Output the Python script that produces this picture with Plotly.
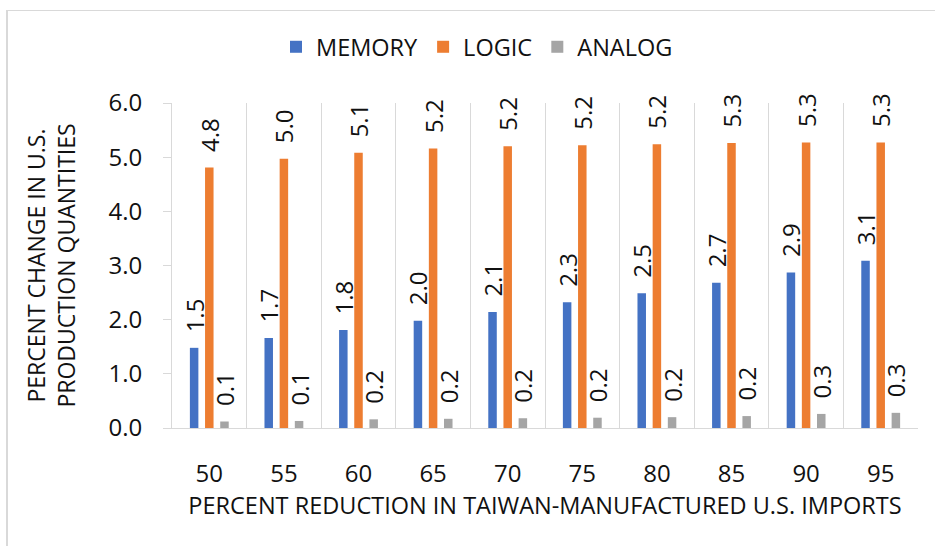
import plotly.graph_objects as go

categories = ["50", "55", "60", "65", "70", "75", "80", "85", "90", "95"]
memory = [1.48, 1.66, 1.81, 1.98, 2.14, 2.32, 2.49, 2.68, 2.87, 3.09]
logic = [4.81, 4.97, 5.08, 5.16, 5.20, 5.22, 5.24, 5.26, 5.27, 5.27]
analog = [0.12, 0.13, 0.16, 0.17, 0.18, 0.19, 0.20, 0.22, 0.26, 0.28]
series_names = ["MEMORY", "LOGIC", "ANALOG"]
colors = ["#4472C4", "#ED7D31", "#A5A5A5"]
y_ticks = [0, 1, 2, 3, 4, 5, 6]

FONT = "Open Sans"
TXT = "#111111"
GRID = "#d9d9d9"

W, H = 935, 546
ML, MR, MT, MB = 172, 17, 103, 118
PW, PH = W - ML - MR, H - MT - MB

xpos = list(range(len(categories)))

fig = go.Figure()
for name, vals, col in zip(series_names, [memory, logic, analog], colors):
    fig.add_trace(go.Bar(
        x=xpos, y=vals, name=name, marker=dict(color=col, line=dict(width=0)),
        texttemplate="\u00a0\u00a0%{y:.1f}", textposition="outside", textangle=-90,
        constraintext="none", cliponaxis=False,
        textfont=dict(family=FONT, size=24, color=TXT),
    ))

def px_to_paper_x(px):
    return (px - ML) / PW

def px_to_paper_y(py):
    return (H - MB - py) / PH

fig.update_layout(
    width=W, height=H,
    margin=dict(l=ML, r=MR, t=MT, b=MB, autoexpand=False),
    paper_bgcolor="white", plot_bgcolor="white",
    barmode="group", bargap=0.39, bargroupgap=0.44,
    font=dict(family=FONT, color=TXT),
    showlegend=True,
    legend=dict(orientation="h", x=px_to_paper_x(276), xanchor="left",
                y=px_to_paper_y(47), yanchor="middle",
                font=dict(family=FONT, size=23.5, color=TXT),
                itemwidth=30, traceorder="normal", bgcolor="rgba(0,0,0,0)"),
    xaxis=dict(
        range=[-0.5, len(categories) - 0.5],
        tickmode="array", tickvals=xpos, ticktext=categories,
        showgrid=False, zeroline=False,
        showline=True, linecolor=GRID, linewidth=1,
        ticks="", ticklabelstandoff=24,
        tickfont=dict(family=FONT, size=24, color=TXT),
        minor=dict(tick0=0.5, dtick=1, showgrid=True, gridcolor=GRID, gridwidth=1, ticks=""),
        title=dict(text="PERCENT REDUCTION IN TAIWAN-MANUFACTURED U.S. IMPORTS",
                   font=dict(family=FONT, size=23.5, color=TXT), standoff=9),
        automargin=False,
    ),
    yaxis=dict(
        range=[0, 6], tickvals=y_ticks, tickformat=".1f",
        showgrid=False, zeroline=False,
        showline=True, linecolor=GRID, linewidth=1,
        ticks="outside", ticklen=8, tickcolor=GRID, ticklabelstandoff=16,
        tickfont=dict(family=FONT, size=24, color=TXT),
        title=dict(text="PERCENT CHANGE IN U.S.<br>PRODUCTION QUANTITIES",
                   font=dict(family=FONT, size=23, color=TXT), standoff=26),
        automargin=False,
    ),
    shapes=[
        dict(type="line", xref="paper", yref="paper",
             x0=px_to_paper_x(7), x1=px_to_paper_x(7),
             y0=px_to_paper_y(560), y1=px_to_paper_y(10.5),
             line=dict(color=GRID, width=2)),
        dict(type="line", xref="paper", yref="paper",
             x0=px_to_paper_x(6), x1=px_to_paper_x(960),
             y0=px_to_paper_y(10.5), y1=px_to_paper_y(10.5),
             line=dict(color=GRID, width=1)),
    ],
)

fig.write_html("out.html")
